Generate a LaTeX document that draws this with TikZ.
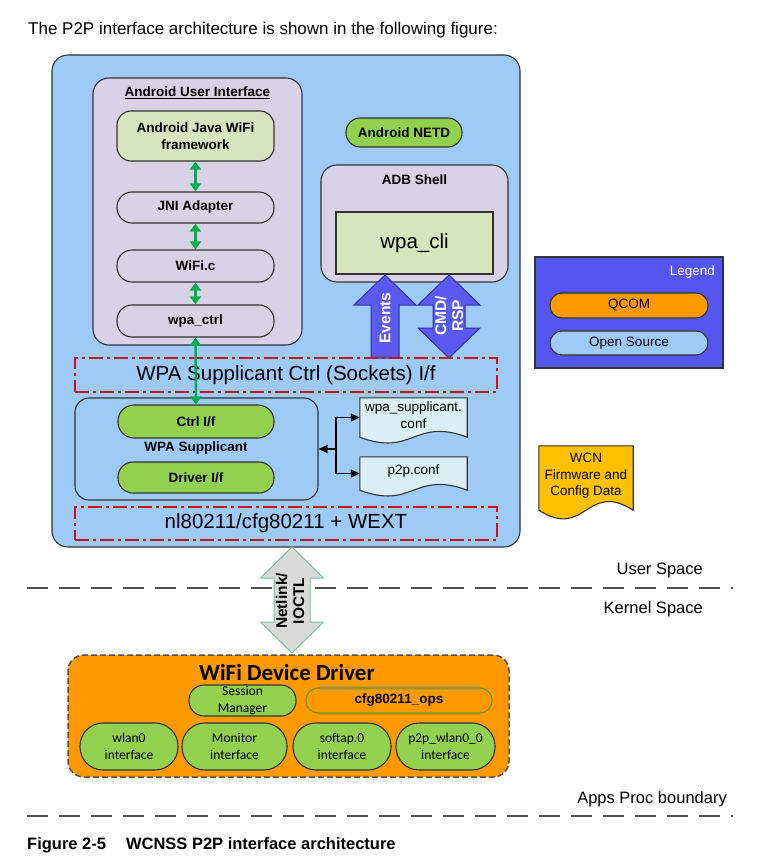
\documentclass[tikz,border=0pt]{standalone}
\usepackage{fontspec}
\setmainfont{Liberation Sans}
\newfontfamily\calib{Carlito}
\usetikzlibrary{arrows.meta}
\definecolor{bigblue}{RGB}{158,202,248}
\definecolor{lav}{RGB}{217,209,230}
\definecolor{lgreen}{RGB}{215,228,189}
\definecolor{pgreen}{RGB}{146,208,80}
\definecolor{qorange}{RGB}{255,153,0}
\definecolor{legblue}{RGB}{85,85,240}
\definecolor{evblue}{RGB}{90,90,240}
\definecolor{evborder}{RGB}{50,50,170}
\definecolor{docfill}{RGB}{218,238,243}
\definecolor{wcnfill}{RGB}{255,192,0}
\definecolor{dashred}{RGB}{200,20,30}
\definecolor{netgray}{RGB}{217,217,217}
\definecolor{netborder}{RGB}{120,195,150}
\definecolor{arrgreen}{RGB}{0,176,80}
\definecolor{bord}{RGB}{50,50,50}
\definecolor{sepgray}{RGB}{80,80,80}
\newcommand\fsS{\fontsize{13.5}{16.5}\selectfont}
\newcommand\fsM{\fontsize{16.5}{19}\selectfont}
\newcommand\fsL{\fontsize{20.5}{24}\selectfont}
\tikzset{
  box/.style={draw=bord, line width=1.1pt, inner sep=0pt, align=center, font=\fsS\bfseries},
  ifbox/.style={draw=dashred, line width=1.6pt, dash pattern=on 14pt off 4pt on 3pt off 4pt, inner sep=0pt, font=\fsL},
  garrow/.style={draw=arrgreen, line width=2.5pt, {Triangle[width=11pt,length=8pt]}-{Triangle[width=11pt,length=8pt]}},
  barrow/.style={draw=black, line width=1.2pt, -{Triangle[width=8pt,length=9pt]}},
  docshape/.style={draw=bord, line width=1.1pt},
  sepline/.style={draw=sepgray, line width=1.8pt, dash pattern=on 21pt off 11pt},
  lbl/.style={inner sep=0pt, font=\fsS\bfseries, align=center},
  plaintext/.style={inner sep=0pt, font=\fsM},
  ifpill/.style={box, fill=pgreen, font=\calib\fsS, minimum height=47, rounded corners=23}
}
\begin{document}
\begin{tikzpicture}[x=1pt,y=-1pt]
\useasboundingbox (0,0) rectangle (774,859);
\fill[white] (0,0) rectangle (774,859);

\node[anchor=base west, inner sep=0pt, font=\fontsize{17}{20}\selectfont] (intro) at (28,35) {The P2P interface architecture is shown in the following figure:};

% big user-space box
\node[box, fill=bigblue, minimum width=468, minimum height=492, rounded corners=16] (big) at (286,301) {};

% Android UI
\node[box, fill=lav, minimum width=209, minimum height=267, rounded corners=16] (ui) at (197.5,211.5) {};
\node[lbl] (uit) at (197.5,93) {\underline{Android User Interface}};
\node[box, fill=lgreen, minimum width=157, minimum height=50, rounded corners=14] (fw) at (195.5,136) {Android Java WiFi\\framework};
\node[box, fill=lav, minimum width=157, minimum height=31, rounded corners=15] (jni) at (195.5,207.5) {JNI Adapter};
\node[box, fill=lav, minimum width=157, minimum height=32, rounded corners=15] (wific) at (195.5,266) {WiFi.c};
\node[box, fill=lav, minimum width=157, minimum height=32, rounded corners=15] (wpactrl) at (195.5,321) {wpa\_ctrl};
\draw[garrow] (fw) -- (jni);
\draw[garrow] (jni) -- (wific);
\draw[garrow] (wific) -- (wpactrl);

% NETD and ADB
\node[box, fill=pgreen, minimum width=116, minimum height=29, rounded corners=14] (netd) at (404,132.5) {Android NETD};
\node[box, fill=lav, minimum width=187, minimum height=117, rounded corners=16] (adb) at (414.5,223.5) {};
\node[lbl] (adbt) at (414.5,180) {ADB Shell};
\node[box, fill=lgreen, minimum width=157, minimum height=62, font=\fsL] (cli) at (414.5,243) {wpa\_cli};

% block arrows
\filldraw[fill=evblue, draw=evborder, line width=1pt] (371,358) -- (371,305) -- (354,305) -- (385,275) -- (416,305) -- (399,305) -- (399,358) -- cycle;
\node[rotate=90, inner sep=0pt, text=white, font=\fontsize{15.5}{17}\selectfont\bfseries] (evt) at (385,318) {Events};
\filldraw[fill=evblue, draw=evborder, line width=1pt] (433,328) -- (433,305) -- (418,305) -- (449,275) -- (480,305) -- (465,305) -- (465,328) -- (480,328) -- (449,358) -- (418,328) -- cycle;
\node[rotate=90, inner sep=0pt, text=white, align=center, font=\fontsize{15.5}{17}\selectfont\bfseries] (cmd) at (449,316) {CMD/\\RSP};

% interface boxes
\node[ifbox, minimum width=422, minimum height=34] (sock) at (286,375) {WPA Supplicant Ctrl (Sockets) I/f};
\node[box, minimum width=243, minimum height=102, rounded corners=14] (wpas) at (196.5,449) {};
\node[box, fill=pgreen, minimum width=156, minimum height=33, rounded corners=16] (ctrlif) at (196,421.5) {Ctrl I/f};
\node[lbl] (wpast) at (196,448) {WPA Supplicant};
\node[box, fill=pgreen, minimum width=156, minimum height=31, rounded corners=15] (drvif) at (196,477.5) {Driver I/f};
\node[ifbox, minimum width=422, minimum height=33] (nl) at (286,523.5) {nl80211/cfg80211 + WEXT};
\draw[garrow] (wpactrl) -- (ctrlif);

% config documents
\node[inner sep=0pt, minimum width=107, minimum height=39] (conf1) at (413.5,417.5) {};
\draw[docshape, fill=docfill] (conf1.north west) -- (conf1.north east) -- (conf1.south east) .. controls +(-53,-20) and +(53,20) .. (conf1.south west) -- cycle;
\node[inner sep=0pt, align=center, font=\fsS] (conf1t) at (413.5,415) {wpa\_supplicant.\\conf};
\node[inner sep=0pt, minimum width=107, minimum height=33] (conf2) at (413.5,473.5) {};
\draw[docshape, fill=docfill] (conf2.north west) -- (conf2.north east) -- (conf2.south east) .. controls +(-53,-20) and +(53,20) .. (conf2.south west) -- cycle;
\node[inner sep=0pt, font=\fsS] (conf2t) at (413.5,471) {p2p.conf};
\coordinate (junc) at (336,449);
\draw[barrow] (junc) -- (wpas.east);
\draw[barrow] (junc) |- (conf1.west);
\draw[barrow] (junc) |- (conf2.west);

% legend
\node[box, fill=legblue, minimum width=188, minimum height=111] (legend) at (629,312.5) {};
\node[anchor=east, inner sep=0pt, text=white, font=\fsS] (legt) at (715,272) {Legend};
\node[box, fill=qorange, font=\fsS, minimum width=158, minimum height=25, rounded corners=12] (qcom) at (629,305.5) {QCOM};
\node[box, fill=bigblue, font=\fsS, minimum width=158, minimum height=24, rounded corners=12] (oss) at (629,343) {Open Source};

% WCN document
\node[inner sep=0pt, minimum width=94, minimum height=64] (wcn) at (586,478) {};
\draw[docshape, fill=wcnfill] (wcn.north west) -- (wcn.north east) -- (wcn.south east) .. controls +(-47,-30) and +(47,30) .. (wcn.south west) -- cycle;
\node[inner sep=0pt, align=center, font=\fsS] (wcnt) at (586,476) {WCN\\Firmware and\\Config Data};

% separators and labels
\draw[sepline] (27,588) -- (733,588);
\draw[sepline] (27,816) -- (733,816);
\node[anchor=base east, plaintext] (us) at (703,574) {User Space};
\node[anchor=base east, plaintext] (ks) at (703,613) {Kernel Space};
\node[anchor=base east, plaintext] (apb) at (727,803) {Apps Proc boundary};

% Netlink arrow
\filldraw[fill=netgray, draw=netborder, line width=1pt] (274,622) -- (274,578) -- (260.5,578) -- (292,547) -- (323.5,578) -- (310,578) -- (310,622) -- (323.5,622) -- (292,653) -- (260.5,622) -- cycle;
\node[rotate=90, inner sep=0pt, align=center, font=\fontsize{15.5}{17}\selectfont\bfseries] (netl) at (290,601) {Netlink/\\IOCTL};

% driver
\node[box, fill=qorange, draw=sepgray, line width=1.5pt, dash pattern=on 6pt off 3pt, minimum width=441, minimum height=122, rounded corners=16] (drv) at (288.5,716) {};
\node[inner sep=0pt, font=\calib\fontsize{23}{26}\selectfont\bfseries] (drvt) at (287,673) {WiFi Device Driver};
\node[box, fill=pgreen, font=\calib\fsS, minimum width=107, minimum height=31, rounded corners=15] (sess) at (242.5,700.5) {Session\\Manager};
\node[box, fill=qorange, draw=pgreen!70!black, minimum width=186, minimum height=25, rounded corners=12] (cfg) at (399,700.5) {cfg80211\_ops};
\node[ifpill, minimum width=98] (wlan) at (129,746.5) {wlan0\\interface};
\node[ifpill, minimum width=105] (mon) at (234.5,746.5) {Monitor\\interface};
\node[ifpill, minimum width=98] (soft) at (342,746.5) {softap.0\\interface};
\node[ifpill, minimum width=99] (p2p) at (445.5,746.5) {p2p\_wlan0\_0\\interface};

\node[anchor=base west, inner sep=0pt, font=\fontsize{16.5}{19}\selectfont\bfseries] (cap) at (27,849) {Figure 2-5\hspace{20pt}WCNSS P2P interface architecture};
\end{tikzpicture}
\end{document}
